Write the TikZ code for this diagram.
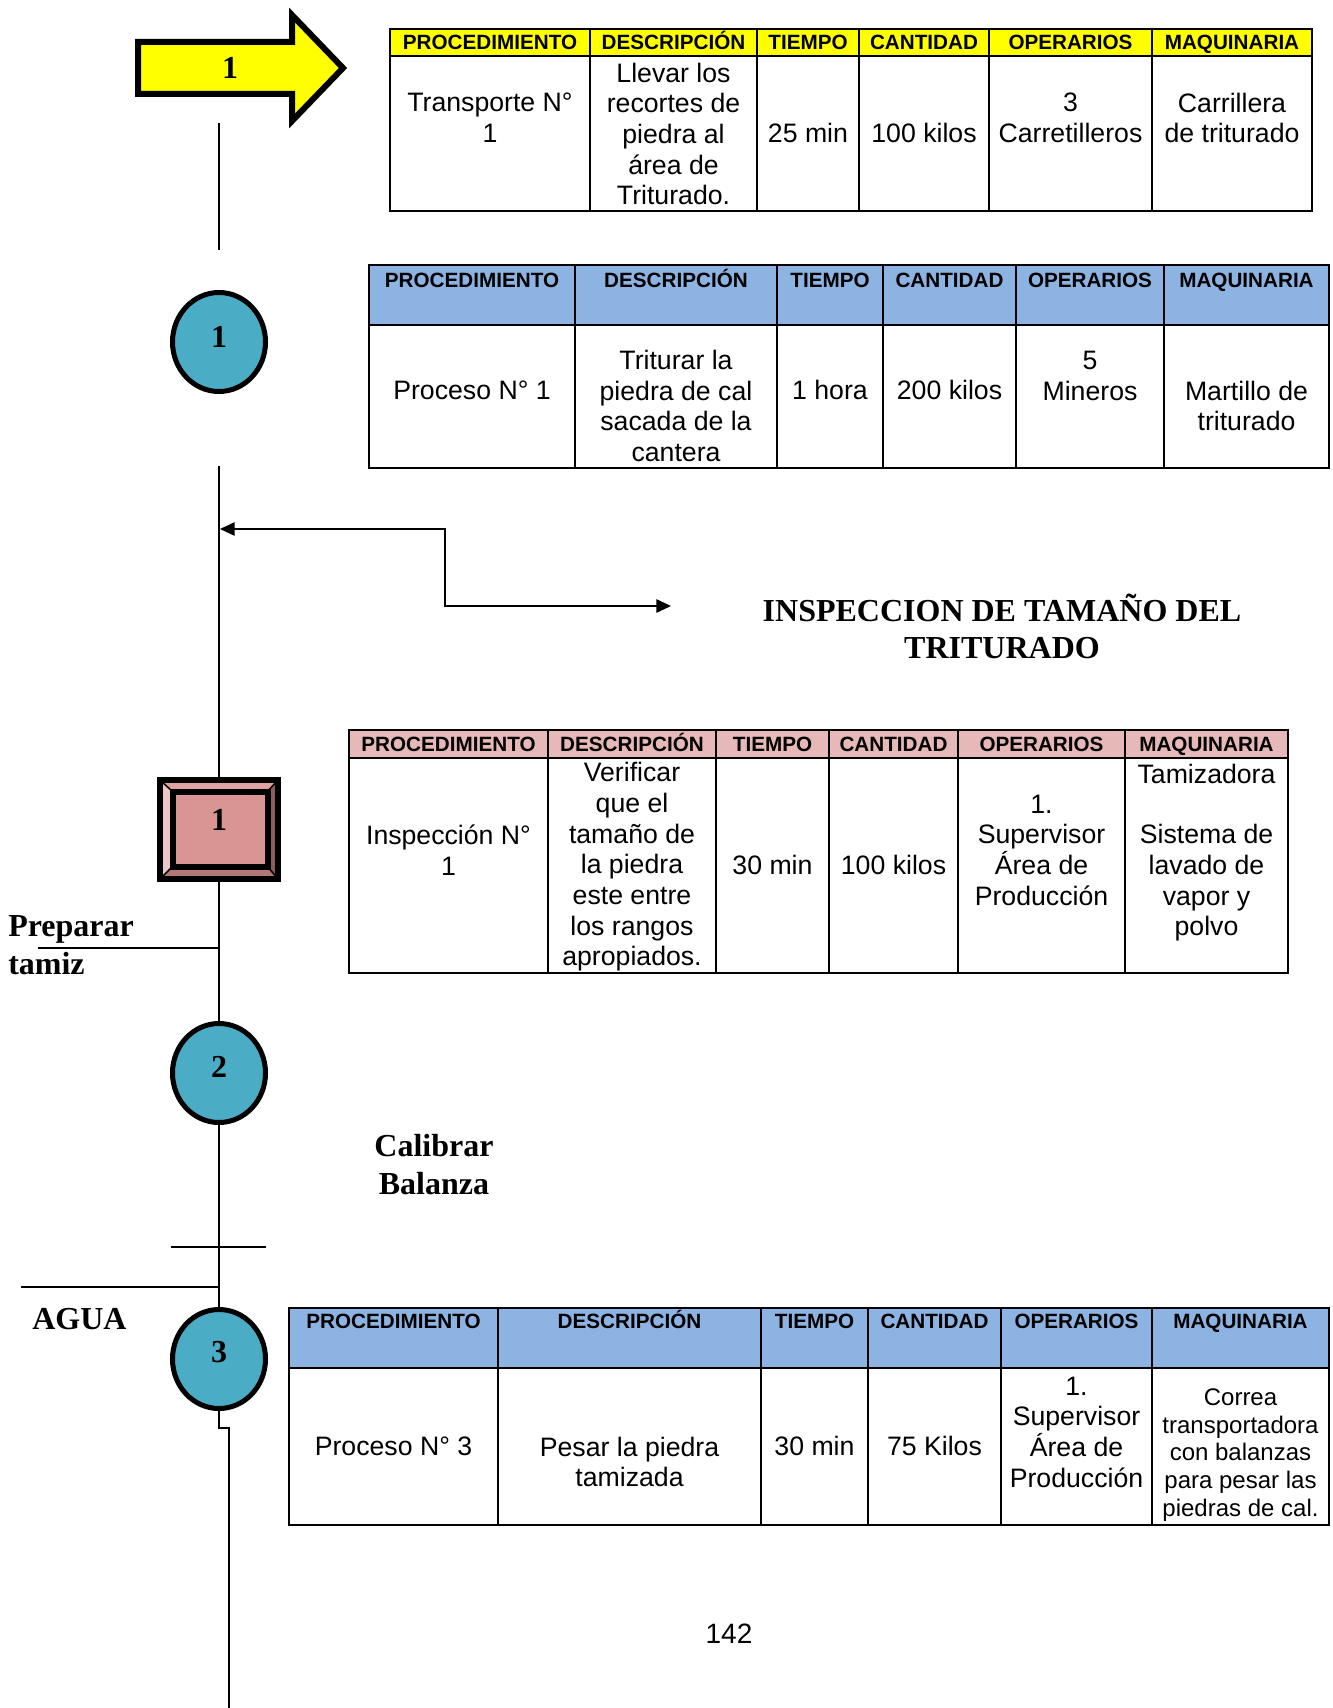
\documentclass[tikz,border=0pt]{standalone}
\usepackage{fontspec}
\setmainfont{Liberation Sans}
\newfontfamily\tnr{Liberation Serif}
\usetikzlibrary{arrows.meta,shapes.geometric}

\definecolor{hdryellow}{HTML}{FFFF00}
\definecolor{hdrblue}{HTML}{8DB3E2}
\definecolor{hdrpink}{HTML}{E6B8B7}
\definecolor{circteal}{HTML}{4BACC6}
\definecolor{sqcenter}{HTML}{D99594}
\definecolor{bandtop}{HTML}{DFA3A2}
\definecolor{bandleft}{HTML}{EDC6C5}
\definecolor{bandright}{HTML}{8C5C5B}
\definecolor{bandbottom}{HTML}{B27776}

\tikzset{
  cell/.style={font=\fontsize{20}{23}\selectfont, align=center, inner sep=0pt},
  smallcell/.style={font=\fontsize{18}{20.8}\selectfont, align=center, inner sep=0pt},
  hdr/.style={font=\bfseries\fontsize{15.5}{18}\selectfont, inner sep=0pt,
    text height=11.1pt, text depth=0pt},
  lbl/.style={font=\tnr\bfseries\fontsize{24}{28}\selectfont, inner sep=0pt},
  num/.style={font=\tnr\bfseries\fontsize{24}{28}\selectfont, inner sep=0pt},
  opcircle/.style={ellipse, draw=black, line width=3.75pt, fill=circteal,
    minimum width=69.75pt, minimum height=74.25pt, inner sep=0pt, outer sep=0pt},
  flow/.style={line width=1.1pt},
  outerrule/.style={line width=1.8pt},
  hdrrule/.style={line width=1.5pt},
  innerrule/.style={line width=1pt},
  flowtip/.tip={Triangle[length=11pt,width=10pt]},
}

% #1 header colour, #2 left, #3 right, #4 top, #5 header bottom, #6 bottom, #7 inner column rules
\newcommand\drawgrid[7]{%
  \fill[#1] (#2,#4) rectangle (#3,#5);
  \foreach \cx in {#7} {\draw[innerrule] (\cx,#4) -- (\cx,#6);}
  \draw[hdrrule] (#2,#5) -- (#3,#5);
  \draw[outerrule] (#2,#4) rectangle (#3,#6);
}

\begin{document}
\begin{tikzpicture}[x=0.75pt,y=-0.75pt]
\useasboundingbox (0,0) rectangle (1333,1708);

% ---------- transport arrow ----------
\draw[line width=4.5pt, fill=hdryellow, line join=miter]
  (138,42) -- (292,42) -- (292,15) -- (343,68) -- (292,121) -- (292,94) -- (138,94) -- cycle;
\node[num] (n0) at (230,68) {1};

% ---------- main flow line and symbols ----------
\coordinate (l0) at (219,123);
\coordinate (l1) at (219,250);
\draw[flow] (l0) -- (l1);

\node[opcircle] (c1) at (219,342) {};
\node[num] (n1) at (219,337) {1};

% inspection symbol (bevel)
\fill[bandtop] (157,777) rectangle (281,882);
\fill[bandleft] (160,780) -- (172.5,791.5) -- (172.5,866.5) -- (160,879) -- cycle;
\fill[bandright] (278,780) -- (267.5,791.5) -- (267.5,866.5) -- (278,879) -- cycle;
\fill[bandbottom] (160,879) -- (172.5,866.5) -- (267.5,866.5) -- (278,879) -- cycle;
\draw[line width=1.2pt] (160,780) -- (172.5,791.5) (278,780) -- (267.5,791.5)
  (160,879) -- (172.5,866.5) (278,879) -- (267.5,866.5);
\draw[line width=4.5pt, fill=sqcenter] (172.5,791.5) rectangle (267.5,866.5);
\draw[line width=4.8pt] (160,780) rectangle (278,879);
\node[minimum width=93pt, minimum height=79pt, inner sep=0pt, outer sep=0pt] (sq) at (219,829.5) {};
\node[num] (n2) at (219,820) {1};

\coordinate (l2) at (219,466);
\draw[flow] (l2) -- (sq.north);

\node[opcircle] (c2) at (219,1073) {};
\node[num] (n3) at (219,1067) {2};
\draw[flow] (sq.south) -- (c2.north);

\node[opcircle] (c3) at (219,1359) {};
\node[num] (n4) at (219,1352) {3};
\draw[flow] (c2.south) -- (c3.north);

\coordinate (jog) at (229,1428);
\coordinate (lend) at (229,1708);
\draw[flow] (c3.south) |- (jog) -- (lend);

% side feeds
\coordinate (pt0) at (38,948);
\coordinate (pt1) at (219,948);
\draw[flow] (pt0) -- (pt1);
\coordinate (cb0) at (171,1247);
\coordinate (cb1) at (266,1247);
\draw[flow] (cb0) -- (cb1);
\coordinate (ag0) at (21,1287);
\coordinate (ag1) at (219,1287);
\draw[flow] (ag0) -- (ag1);

\node[lbl, anchor=base west] (prep) at (8,936) {Preparar};
\node[lbl, anchor=base west] (tamiz) at (8,974) {tamiz};
\node[lbl, align=center, font=\tnr\bfseries\fontsize{24}{28.5}\selectfont] (calib) at (434,1165) {Calibrar\\Balanza};
\node[lbl, anchor=base west] (agua) at (32,1329) {AGUA};

% inspection loop arrow
\coordinate (ltip) at (220,529);
\coordinate (jt) at (445,529);
\coordinate (jb) at (445,606);
\coordinate (rtip) at (671,606);
\draw[line width=1.3pt, {flowtip}-{flowtip}] (ltip) -- (jt) -- (jb) -- (rtip);
\node[lbl, align=center, font=\tnr\bfseries\fontsize{24}{27.75}\selectfont] (title) at (1002,626) {INSPECCION DE TAMAÑO DEL\\TRITURADO};

% ---------- table: transport ----------
\drawgrid{hdryellow}{390}{1312}{29}{56}{211}{590,757,859,989,1152}
\node[hdr] (a-h1) at (490,42.5) {PROCEDIMIENTO};
\node[hdr] (a-h2) at (673.5,42.5) {DESCRIPCIÓN};
\node[hdr] (a-h3) at (808,42.5) {TIEMPO};
\node[hdr] (a-h4) at (924,42.5) {CANTIDAD};
\node[hdr] (a-h5) at (1070.5,42.5) {OPERARIOS};
\node[hdr] (a-h6) at (1232,42.5) {MAQUINARIA};
\node[cell] (a-b1) at (490,118) {Transporte N°\\1};
\node[cell] (a-b2) at (673.5,134) {Llevar los\\recortes de\\piedra al\\área de\\Triturado.};
\node[cell] (a-b3) at (808,133) {25 min};
\node[cell] (a-b4) at (924,133) {100 kilos};
\node[cell] (a-b5) at (1070.5,118) {3\\Carretilleros};
\node[cell] (a-b6) at (1232,118) {Carrillera\\de triturado};

% ---------- table: process 1 ----------
\drawgrid{hdrblue}{369}{1329}{265}{325}{468}{575,777,883,1016,1164}
\node[hdr] (b-h1) at (472,280) {PROCEDIMIENTO};
\node[hdr] (b-h2) at (676,280) {DESCRIPCIÓN};
\node[hdr] (b-h3) at (830,280) {TIEMPO};
\node[hdr] (b-h4) at (949.5,280) {CANTIDAD};
\node[hdr] (b-h5) at (1090,280) {OPERARIOS};
\node[hdr] (b-h6) at (1246.5,280) {MAQUINARIA};
\node[cell] (b-b1) at (472,390) {Proceso N° 1};
\node[cell] (b-b2) at (676,406) {Triturar la\\piedra de cal\\sacada de la\\cantera};
\node[cell] (b-b3) at (830,390) {1 hora};
\node[cell] (b-b4) at (949.5,390) {200 kilos};
\node[cell] (b-b5) at (1090,376) {5\\Mineros};
\node[cell] (b-b6) at (1246.5,406) {Martillo de\\triturado};

% ---------- table: inspection 1 ----------
\drawgrid{hdrpink}{349}{1288}{730}{758}{973}{548,716,829,958,1125}
\node[hdr] (c-h1) at (448.5,744) {PROCEDIMIENTO};
\node[hdr] (c-h2) at (632,744) {DESCRIPCIÓN};
\node[hdr] (c-h3) at (772.5,744) {TIEMPO};
\node[hdr] (c-h4) at (893.5,744) {CANTIDAD};
\node[hdr] (c-h5) at (1041.5,744) {OPERARIOS};
\node[hdr] (c-h6) at (1206.5,744) {MAQUINARIA};
\node[cell] (c-b1) at (448.5,850) {Inspección N°\\1};
\node[cell] (c-b2) at (632,867) {Verificar\\que el\\tamaño de\\la piedra\\este entre\\los rangos\\apropiados.};
\node[cell] (c-b3) at (772.5,865) {30 min};
\node[cell] (c-b4) at (893.5,865) {100 kilos};
\node[cell] (c-b5) at (1041.5,850) {1.\\Supervisor\\Área de\\Producción};
\node[cell] (c-b6) at (1206.5,774) {Tamizadora};
\node[cell] (c-b7) at (1206.5,883) {Sistema de\\lavado de\\vapor y\\polvo};

% ---------- table: process 3 ----------
\drawgrid{hdrblue}{289}{1329}{1308}{1368}{1525}{498,761,868,1001,1152}
\node[hdr] (d-h1) at (393.5,1321.5) {PROCEDIMIENTO};
\node[hdr] (d-h2) at (629.5,1321.5) {DESCRIPCIÓN};
\node[hdr] (d-h3) at (814.5,1321.5) {TIEMPO};
\node[hdr] (d-h4) at (934.5,1321.5) {CANTIDAD};
\node[hdr] (d-h5) at (1076.5,1321.5) {OPERARIOS};
\node[hdr] (d-h6) at (1240.5,1321.5) {MAQUINARIA};
\node[cell] (d-b1) at (393.5,1446) {Proceso N° 3};
\node[cell] (d-b2) at (629.5,1462) {Pesar la piedra\\tamizada};
\node[cell] (d-b3) at (814.5,1446) {30 min};
\node[cell] (d-b4) at (934.5,1446) {75 Kilos};
\node[cell] (d-b5) at (1076.5,1432) {1.\\Supervisor\\Área de\\Producción};
\node[smallcell] (d-b6) at (1240.5,1455) {Correa\\transportadora\\con balanzas\\para pesar las\\piedras de cal.};

% page number
\node[font=\fontsize{21}{25}\selectfont, inner sep=0pt] (pg) at (729,1634) {142};
\end{tikzpicture}
\end{document}
